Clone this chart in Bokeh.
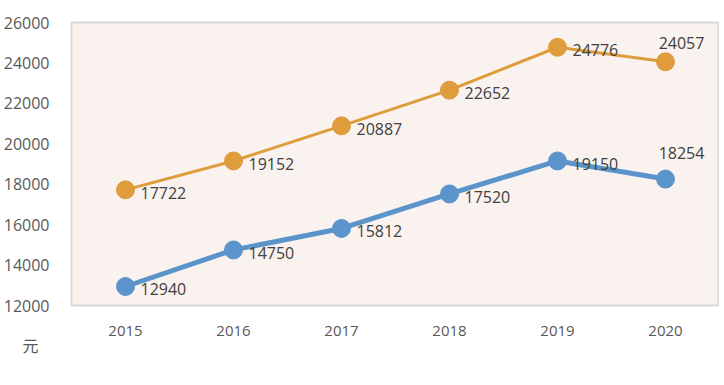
from bokeh.plotting import figure
from bokeh.models import ColumnDataSource, Legend, LegendItem, Title, Range1d, FactorRange
from bokeh.core.properties import value
from bokeh.embed import file_html
from bokeh.resources import INLINE

years = ["2015", "2016", "2017", "2018", "2019", "2020"]
income = [17722, 19152, 20887, 22652, 24776, 24057]
expense = [12940, 14750, 15812, 17520, 19150, 18254]
y_ticks = [12000, 14000, 16000, 18000, 20000, 22000, 24000, 26000]
unit = "元"

ORANGE = "#DE9C3C"
BLUE = "#5B94CA"
FONT = "Open Sans"
CJK = "Noto Sans CJK SC"
TXT = "#404040"

p = figure(x_range=FactorRange(*years),
           y_range=Range1d(12000, 26000),
           frame_width=648, frame_height=283,
           min_border_left=61, min_border_top=22, min_border_right=0, min_border_bottom=80,
           output_backend="svg", toolbar_location=None, background_fill_color="#FAF2EF")
p.x_range.range_padding = 0.0
p.x_range.factor_padding = 0.0

p.outline_line_color = "#D9D9D9"
p.outline_line_width = 2
p.xgrid.grid_line_color = None
p.ygrid.grid_line_color = None

p.yaxis.ticker = y_ticks
p.yaxis.axis_line_color = None
p.yaxis.major_tick_line_color = None
p.yaxis.minor_tick_line_color = None
p.yaxis.major_label_text_font = FONT
p.yaxis.major_label_text_font_size = "16px"
p.yaxis.major_label_text_color = "#595959"
p.yaxis.major_label_standoff = 16

p.xaxis.axis_line_color = None
p.xaxis.major_tick_line_color = None
p.xaxis.minor_tick_line_color = None
p.xaxis.major_label_text_font = FONT
p.xaxis.major_label_text_font_size = "15px"
p.xaxis.major_label_text_color = "#595959"
p.xaxis.major_label_standoff = 14

n = len(years)
xo = [15] * (n - 1) + [16]
yo_inc = [3] * (n - 1) + [-19]
yo_exp = [3] * (n - 1) + [-26]
align = ["left"] * (n - 1) + ["center"]

src_i = ColumnDataSource(dict(x=years, y=income, t=[str(v) for v in income], xo=xo, yo=yo_inc, al=align))
src_e = ColumnDataSource(dict(x=years, y=expense, t=[str(v) for v in expense], xo=xo, yo=yo_exp, al=align))

li = p.line("x", "y", source=src_i, line_color=ORANGE, line_width=3)
si = p.scatter("x", "y", source=src_i, size=18, fill_color=ORANGE, line_color=ORANGE)
le = p.line("x", "y", source=src_e, line_color=BLUE, line_width=5)
se = p.scatter("x", "y", source=src_e, size=18, fill_color=BLUE, line_color=BLUE)

for s in (src_i, src_e):
    p.text("x", "y", text="t", source=s, x_offset="xo", y_offset="yo", text_align="al",
           text_baseline="middle", text_font=value(FONT), text_font_size="16px", text_color=TXT)

p.add_layout(Title(text=unit, align="left", offset=-49, standoff=-36,
                   text_font=CJK, text_font_size="16px", text_color="#595959",
                   text_font_style="normal"), "below")

legend = Legend(items=[LegendItem(label="收入", renderers=[li, si]),
                       LegendItem(label="支出", renderers=[le, se])],
                orientation="horizontal", location=(209, 14),
                glyph_width=40, glyph_height=16, label_text_font=CJK,
                label_text_font_size="16px", label_text_color="#595959",
                border_line_color=None, background_fill_alpha=0, spacing=14,
                label_standoff=6, padding=0, margin=0)
p.add_layout(legend, "below")

open("out.html", "w").write(file_html(p, INLINE))
